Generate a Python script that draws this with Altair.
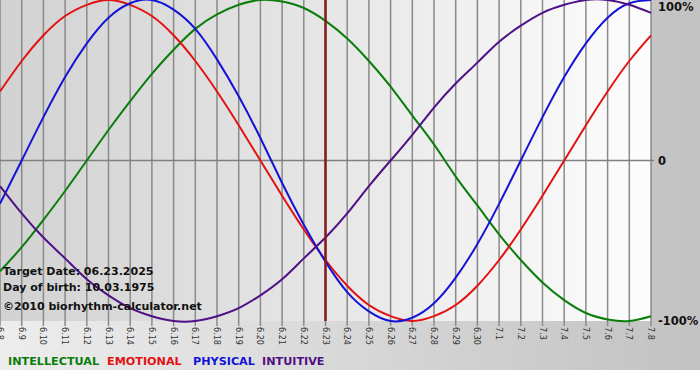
import altair as alt
import pandas as pd

# ---- data ----
day_labels = ["6.8", "6.9", "6.10", "6.11", "6.12", "6.13", "6.14", "6.15", "6.16", "6.17",
              "6.18", "6.19", "6.20", "6.21", "6.22", "6.23", "6.24", "6.25", "6.26", "6.27",
              "6.28", "6.29", "6.30", "7.1", "7.2", "7.3", "7.4", "7.5", "7.6", "7.7", "7.8"]

intellectual = [-0.69, -0.54, -0.37, -0.19, 0.00, 0.19, 0.37, 0.54, 0.69, 0.82, 0.91,
                0.97, 1.00, 0.99, 0.95, 0.87, 0.76, 0.62, 0.46, 0.28, 0.10, -0.10,
                -0.28, -0.46, -0.62, -0.76, -0.87, -0.95, -0.99, -1.00, -0.97]
emotional = [0.43, 0.62, 0.78, 0.90, 0.97, 1.00, 0.97, 0.90, 0.78, 0.62, 0.43,
             0.22, 0.00, -0.22, -0.43, -0.62, -0.78, -0.90, -0.97, -1.00, -0.97, -0.90,
             -0.78, -0.62, -0.43, -0.22, 0.00, 0.22, 0.43, 0.62, 0.78]
physical = [-0.27, 0.00, 0.27, 0.52, 0.73, 0.89, 0.98, 1.00, 0.94, 0.82, 0.63,
            0.40, 0.14, -0.14, -0.40, -0.63, -0.82, -0.94, -1.00, -0.98, -0.89, -0.73,
            -0.52, -0.27, 0.00, 0.27, 0.52, 0.73, 0.89, 0.98, 1.00]
intuitive = [-0.16, -0.33, -0.48, -0.61, -0.74, -0.84, -0.92, -0.97, -1.00, -1.00, -0.97,
             -0.92, -0.84, -0.74, -0.61, -0.48, -0.33, -0.16, 0.00, 0.16, 0.33, 0.48,
             0.61, 0.74, 0.84, 0.92, 0.97, 1.00, 1.00, 0.97, 0.92]

series_names = ["INTELLECTUAL", "EMOTIONAL", "PHYSICAL", "INTUITIVE"]
series_colors = ["#0a7d0a", "#e31212", "#1414d6", "#4f0f86"]
target_label = "6.23"
y_tick_values = [1, 0, -1]
y_tick_labels = ["100%", "0", "-100%"]
info_lines = ["Target Date: 06.23.2025", "Day of birth: 10.03.1975", "\u00a92010 biorhythm-calculator.net"]

W, H = 651, 321

rows = []
for name, vals in zip(series_names, [intellectual, emotional, physical, intuitive]):
    for i, v in enumerate(vals):
        rows.append({"day": i, "value": v, "series": name})
df = pd.DataFrame(rows)
days_df = pd.DataFrame({"day": list(range(len(day_labels))), "lab": day_labels})

xscale = alt.Scale(domain=[0, len(day_labels) - 1], nice=False, zero=False)
yscale = alt.Scale(domain=[-1, 1], nice=False)

one = pd.DataFrame({"k": [0]})

outer_grad = {"gradient": "linear", "x1": 0, "x2": 1, "y1": 0, "y2": 0,
              "stops": [{"offset": 0, "color": "#ededed"}, {"offset": 1, "color": "#c2c2c2"}]}
plot_grad = {"gradient": "linear", "x1": 0, "x2": 1, "y1": 0, "y2": 0,
             "stops": [{"offset": 0, "color": "#d2d2d2"}, {"offset": 0.5, "color": "#e6e6e6"},
                       {"offset": 1, "color": "#fdfdfd"}]}

outer_bg = alt.Chart(one).mark_rect(fill=outer_grad, strokeWidth=0).encode(
    x=alt.value(0), x2=alt.value(700), y=alt.value(0), y2=alt.value(370))

plot_bg = alt.Chart(one).mark_rect(fill=plot_grad, strokeWidth=0).encode(
    x=alt.value(0), x2=alt.value(W), y=alt.value(0), y2=alt.value(H))

# vertical grid lines with their small ticks below the plot
vgrid = alt.Chart(days_df).mark_rule(color="#8a8a8a", strokeWidth=1.5).encode(
    x=alt.X("day:Q", scale=xscale, axis=None),
    y=alt.value(0), y2=alt.value(H + 5))

# day labels, rotated, below the plot
xlabels = alt.Chart(days_df).mark_text(
    angle=90, align="left", baseline="middle", font="DejaVu Sans Condensed",
    fontSize=9, color="#333333", dy=0).encode(
    x=alt.X("day:Q", scale=xscale, axis=None), y=alt.value(H + 6), text="lab:N")

zero_rule = alt.Chart(pd.DataFrame({"v": [0]})).mark_rule(color="#808080", strokeWidth=1.5).encode(
    y=alt.Y("v:Q", scale=yscale, axis=None), x=alt.value(0), x2=alt.value(654))

lines = alt.Chart(df).mark_line(strokeWidth=2, interpolate="natural").encode(
    x=alt.X("day:Q", scale=xscale, axis=None),
    y=alt.Y("value:Q", scale=yscale, axis=None),
    color=alt.Color("series:N", scale=alt.Scale(domain=series_names, range=series_colors),
                    legend=None),
    detail="series:N",
)

target_rule = alt.Chart(pd.DataFrame({"day": [day_labels.index(target_label)]})).mark_rule(
    color="#861a1a", strokeWidth=2.5).encode(
    x=alt.X("day:Q", scale=xscale, axis=None), y=alt.value(0), y2=alt.value(H))

ytop = pd.DataFrame({"v": y_tick_values[:1], "t": y_tick_labels[:1]})
yrest = pd.DataFrame({"v": y_tick_values[1:], "t": y_tick_labels[1:]})
ylab_top = alt.Chart(ytop).mark_text(
    align="left", baseline="middle", dy=8, font="DejaVu Sans", fontWeight="bold",
    fontSize=11.5, color="#111111").encode(
    y=alt.Y("v:Q", scale=yscale, axis=None), x=alt.value(658), text="t:N")
ylab_rest = alt.Chart(yrest).mark_text(
    align="left", baseline="middle", dy=1, font="DejaVu Sans", fontWeight="bold",
    fontSize=11.5, color="#111111").encode(
    y=alt.Y("v:Q", scale=yscale, axis=None), x=alt.value(658), text="t:N")

info_layers = []
for txt, yy in zip(info_lines, [272, 288, 307]):
    info_layers.append(alt.Chart(pd.DataFrame({"t": [txt]})).mark_text(
        align="left", baseline="middle", font="DejaVu Sans", fontWeight="bold",
        fontSize=11, color="#111111").encode(x=alt.value(3), y=alt.value(yy), text="t:N"))

legend_layers = []
for name, col, xx in zip(series_names, series_colors, [8, 107, 193, 262]):
    legend_layers.append(alt.Chart(pd.DataFrame({"t": [name]})).mark_text(
        align="left", baseline="middle", font="DejaVu Sans", fontWeight="bold",
        fontSize=11.2, color=col).encode(x=alt.value(xx), y=alt.value(362), text="t:N"))

chart = alt.layer(outer_bg, plot_bg, vgrid, xlabels, zero_rule, lines, target_rule,
                  ylab_top, ylab_rest, *info_layers, *legend_layers).properties(
    width=W, height=H, autosize="none",
    padding={"left": 0, "top": 0, "right": 700 - W, "bottom": 380 - H},
    background="#ffffff",
).configure_view(stroke=None)

chart.save("out.html", embed_options={"renderer": "svg", "actions": False})
